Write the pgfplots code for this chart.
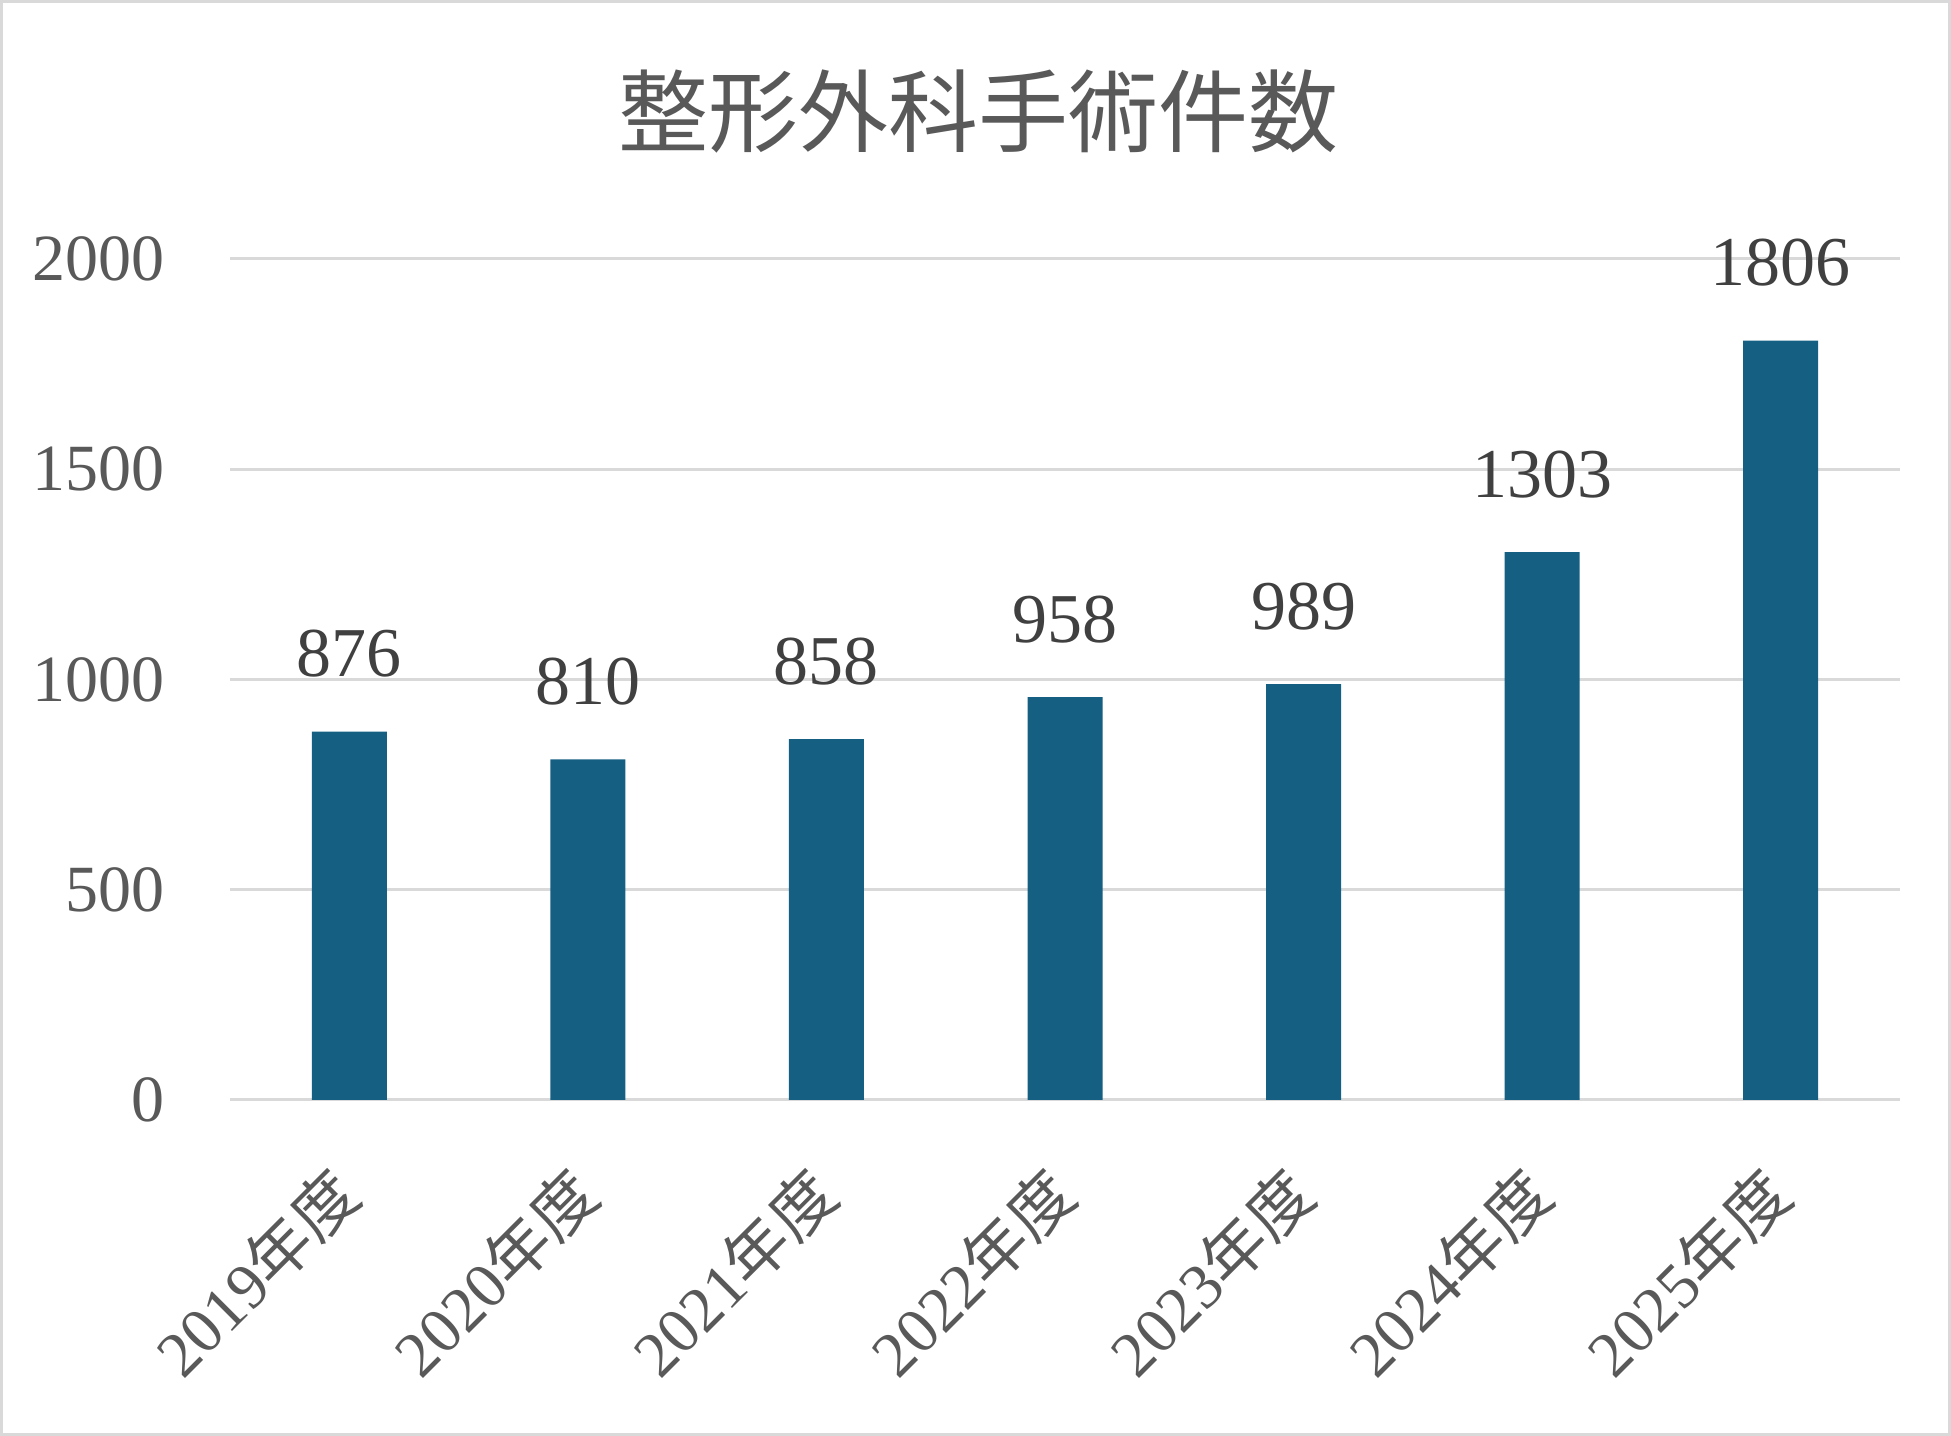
\documentclass[border=0pt]{standalone}
\usepackage{fontspec}
\setmainfont{Liberation Serif}
\newfontfamily\cjk{Noto Sans CJK JP}
\usepackage{pgfplots}
\pgfplotsset{compat=1.18}
\definecolor{barc}{HTML}{156082}
\definecolor{tickc}{HTML}{595959}
\definecolor{labc}{HTML}{404040}
\definecolor{gridc}{HTML}{D9D9D9}
\begin{document}
\begin{tikzpicture}
\useasboundingbox (0,0) rectangle (975.5pt,718pt);
\draw[gridc, line width=1.5pt] (0.75pt,0.75pt) rectangle (974.75pt,717.25pt);
\node[text=tickc, font=\cjk\fontsize{45}{54}\selectfont] at (489pt,662pt) {整形外科手術件数};
\begin{axis}[
  at={(115pt,168pt)}, anchor=south west,
  scale only axis, width=835pt, height=420.5pt,
  xmin=-0.5, xmax=6.5, ymin=0, ymax=2000,
  ytick={0,500,1000,1500,2000},
  xtick={0,1,2,3,4,5,6},
  xticklabels={2019{\cjk 年度},2020{\cjk 年度},2021{\cjk 年度},2022{\cjk 年度},2023{\cjk 年度},2024{\cjk 年度},2025{\cjk 年度}},
  /pgf/number format/assume math mode=true,
  /pgf/number format/1000 sep={},
  axis line style={draw=none},
  major tick length=0pt,
  ymajorgrids,
  grid style={gridc, line width=1.5pt},
  yticklabel style={anchor=east, inner sep=0pt, xshift=-32.5pt, text=tickc, font=\fontsize{33}{40}\selectfont},
  xticklabel style={xshift=-1pt, yshift=-41pt, rotate=45, anchor=east, inner sep=0pt, text=tickc, font=\fontsize{32}{38}\selectfont},
  ybar, bar width=37.5pt,
  nodes near coords,
  nodes near coords style={anchor=south, inner sep=0pt, yshift=27pt, text=labc, font=\fontsize{35}{42}\selectfont},
]
\addplot[fill=barc, draw=none] coordinates {(0,876) (1,810) (2,858) (3,958) (4,989) (5,1303) (6,1806)};
\end{axis}
\end{tikzpicture}
\end{document}
